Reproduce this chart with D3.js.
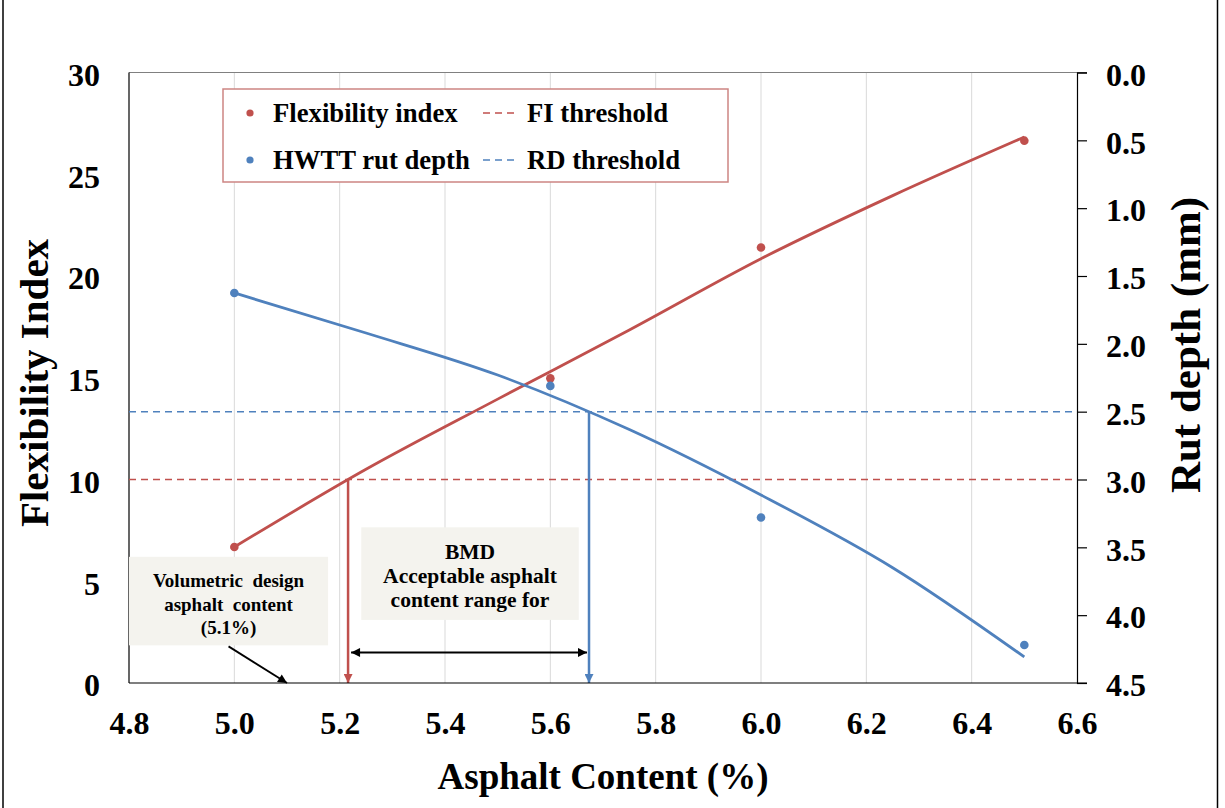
<!DOCTYPE html>
<html>
<head>
<meta charset="utf-8">
<title>Flexibility Index and Rut depth vs Asphalt Content</title>
<script src="https://d3js.org/d3.v7.min.js"></script>
<style>
  body { margin: 0; background: #fff; }
  svg text { font-family: "Liberation Serif", "Times New Roman", serif; font-weight: bold; fill: #000; }
</style>
</head>
<body>
<div id="chart"></div>
<script>
// measured points
const asphalt = [5.0, 5.6, 6.0, 6.5];
const flexIndex = [6.68, 14.97, 21.4, 26.65];
const rutDepth = [1.625, 2.31, 3.28, 4.22];
// trendlines
const trendX = [5.0, 5.25, 5.5, 5.75, 6.0, 6.25, 6.5];
const fiTrend = [6.68, 10.5, 13.95, 17.35, 20.85, 23.95, 26.83];
const rdTrend = [1.625, 1.92, 2.23, 2.632, 3.114, 3.65, 4.308];
// axes
const xTicks = [4.8, 5.0, 5.2, 5.4, 5.6, 5.8, 6.0, 6.2, 6.4, 6.6];
const fiTicks = [0, 5, 10, 15, 20, 25, 30];
const rdTicks = [0, 0.5, 1.0, 1.5, 2.0, 2.5, 3.0, 3.5, 4.0, 4.5];
const fiThreshold = 10;
const rdThreshold = 2.5;
const volumetricAC = 5.1;

const W = 1225, H = 808;
const red = "#c0504d", blue = "#4f81bd";

const svg = d3.select("#chart").append("svg")
    .attr("width", W).attr("height", H);

const x = d3.scaleLinear().domain([4.8, 6.6]).range([129, 1077]);
const yL = d3.scaleLinear().domain([0, 30]).range([683, 72.5]);
const yR = d3.scaleLinear().domain([0, 4.5]).range([72.5, 683]);

// markers
const defs = svg.append("defs");
function arrow(id, color, w, l) {
    defs.append("marker").attr("id", id)
        .attr("viewBox", "0 0 10 10").attr("refX", 10).attr("refY", 5)
        .attr("markerUnits", "userSpaceOnUse")
        .attr("markerWidth", l).attr("markerHeight", w)
        .attr("orient", "auto-start-reverse")
        .append("path").attr("d", "M0,0 L10,5 L0,10 Z").attr("fill", color);
}
arrow("arRed", red, 9, 11);
arrow("arBlue", blue, 9, 11);
arrow("arBlack", "#000", 9, 12);

// outer frame lines
svg.append("line").attr("x1", 3).attr("x2", 3).attr("y1", 0).attr("y2", H)
    .attr("stroke", "#000").attr("stroke-width", 1.5);
svg.append("line").attr("x1", 1217.5).attr("x2", 1217.5).attr("y1", 0).attr("y2", H)
    .attr("stroke", "#000").attr("stroke-width", 1.5);

// vertical gridlines
svg.append("g").selectAll("line")
    .data(xTicks.slice(1, -1)).join("line")
    .attr("x1", d => x(d)).attr("x2", d => x(d))
    .attr("y1", yL(30)).attr("y2", yL(0))
    .attr("stroke", "#d9d9d9").attr("stroke-width", 1);

// plot border
svg.append("line").attr("x1", x(4.8)).attr("x2", x(6.6) + 10)
    .attr("y1", yL(30)).attr("y2", yL(30)).attr("stroke", "#808080").attr("stroke-width", 1.2);
svg.append("line").attr("x1", x(4.8)).attr("x2", x(4.8))
    .attr("y1", yL(30)).attr("y2", yL(0)).attr("stroke", "#000").attr("stroke-width", 1.2);

// annotation boxes
const noteFill = "#f4f3ee";
svg.append("rect")
    .attr("x", x(4.8)).attr("y", yL(6.2))
    .attr("width", x(5.178) - x(4.8)).attr("height", yL(1.85) - yL(6.2))
    .attr("fill", noteFill);
svg.append("rect")
    .attr("x", x(5.241)).attr("y", yL(7.65))
    .attr("width", x(5.654) - x(5.241)).attr("height", yL(3.1) - yL(7.65))
    .attr("fill", noteFill);

const note1 = ["Volumetric  design", "asphalt  content", "(5.1%)"];
svg.append("g").selectAll("text").data(note1).join("text")
    .attr("x", (x(4.8) + x(5.178)) / 2)
    .attr("y", (d, i) => 587 + i * 23.5)
    .attr("text-anchor", "middle").attr("font-size", 19)
    .style("white-space", "pre")
    .text(d => d);

const note2 = ["BMD", "Acceptable asphalt", "content range for"];
svg.append("g").selectAll("text").data(note2).join("text")
    .attr("x", (x(5.241) + x(5.654)) / 2)
    .attr("y", (d, i) => 559 + i * 24)
    .attr("text-anchor", "middle").attr("font-size", 21.5)
    .text(d => d);

// threshold lines
svg.append("line").attr("x1", x(4.8)).attr("x2", x(6.6))
    .attr("y1", yL(fiThreshold)).attr("y2", yL(fiThreshold))
    .attr("stroke", red).attr("stroke-width", 1.5).attr("stroke-dasharray", "7,5");
svg.append("line").attr("x1", x(4.8)).attr("x2", x(6.6))
    .attr("y1", yR(rdThreshold)).attr("y2", yR(rdThreshold))
    .attr("stroke", blue).attr("stroke-width", 1.5).attr("stroke-dasharray", "7,5");

// trendlines
const fiPath = svg.append("path").datum(trendX)
    .attr("d", d3.line().curve(d3.curveMonotoneX).x(d => x(d)).y((d, i) => yL(fiTrend[i])))
    .attr("fill", "none").attr("stroke", red).attr("stroke-width", 2.8);
const rdPath = svg.append("path").datum(trendX)
    .attr("d", d3.line().curve(d3.curveMonotoneX).x(d => x(d)).y((d, i) => yR(rdTrend[i])))
    .attr("fill", "none").attr("stroke", blue).attr("stroke-width", 2.8);

// where a trendline crosses a horizontal pixel level
function crossing(pathSel, yPix) {
    const p = pathSel.node();
    let lo = 0, hi = p.getTotalLength();
    const s0 = Math.sign(p.getPointAtLength(lo).y - yPix);
    for (let i = 0; i < 40; i++) {
        const m = (lo + hi) / 2;
        if (Math.sign(p.getPointAtLength(m).y - yPix) === s0) lo = m; else hi = m;
    }
    return p.getPointAtLength((lo + hi) / 2).x;
}
const pxFI = crossing(fiPath, yL(fiThreshold));
const pxRD = crossing(rdPath, yR(rdThreshold));

// points
svg.append("g").selectAll("circle").data(asphalt).join("circle")
    .attr("cx", d => x(d)).attr("cy", (d, i) => yL(flexIndex[i]))
    .attr("r", 4.3).attr("fill", red);
svg.append("g").selectAll("circle").data(asphalt).join("circle")
    .attr("cx", d => x(d)).attr("cy", (d, i) => yR(rutDepth[i]))
    .attr("r", 4.3).attr("fill", blue);

// drop lines at the threshold crossings
svg.append("line").attr("x1", pxFI).attr("x2", pxFI)
    .attr("y1", yL(fiThreshold)).attr("y2", yL(0))
    .attr("stroke", red).attr("stroke-width", 2.5).attr("marker-end", "url(#arRed)");
svg.append("line").attr("x1", pxRD).attr("x2", pxRD)
    .attr("y1", yR(rdThreshold)).attr("y2", yL(0))
    .attr("stroke", blue).attr("stroke-width", 2.5).attr("marker-end", "url(#arBlue)");

// range arrow
svg.append("line").attr("x1", pxFI + 3).attr("x2", pxRD - 2)
    .attr("y1", yL(1.5)).attr("y2", yL(1.5))
    .attr("stroke", "#000").attr("stroke-width", 2)
    .attr("marker-start", "url(#arBlack)").attr("marker-end", "url(#arBlack)");

// volumetric arrow
svg.append("line")
    .attr("x1", (x(4.8) + x(5.178)) / 2).attr("y1", yL(1.8))
    .attr("x2", x(volumetricAC)).attr("y2", yL(0))
    .attr("stroke", "#000").attr("stroke-width", 1.8)
    .attr("marker-end", "url(#arBlack)");

// axes
const fmt1 = d3.format(".1f");
const gx = svg.append("g").attr("transform", `translate(0,${yL(0)})`)
    .call(d3.axisBottom(x).tickValues(xTicks).tickFormat(fmt1).tickSize(0).tickPadding(28));
gx.select(".domain").remove();
svg.append("line").attr("x1", x(4.8)).attr("x2", x(6.6) + 10)
    .attr("y1", yL(0)).attr("y2", yL(0)).attr("stroke", "#000").attr("stroke-width", 1.2);

const gl = svg.append("g").attr("transform", `translate(${x(4.8)},0)`)
    .call(d3.axisLeft(yL).tickValues(fiTicks).tickFormat(d3.format("d")).tickSize(0).tickPadding(29));
gl.select(".domain").remove();

const gr = svg.append("g").attr("transform", `translate(${x(6.6)},0)`)
    .call(d3.axisRight(yR).tickValues(rdTicks).tickFormat(fmt1).tickSize(10).tickPadding(19));
gr.select(".domain").attr("stroke", "#000").attr("stroke-width", 1.2);
gr.selectAll(".tick line").attr("stroke", "#000").attr("stroke-width", 1.2);

svg.selectAll(".tick text")
    .attr("font-size", 32)
    .style("font-family", "'Liberation Serif', 'Times New Roman', serif")
    .style("font-weight", "bold").attr("fill", "#000");
gl.selectAll(".tick text").attr("dy", "0.4em");
gr.selectAll(".tick text").attr("dy", "0.4em");

// axis titles
svg.append("text").attr("transform", "translate(48,383) rotate(-90)")
    .attr("text-anchor", "middle").attr("font-size", 41).text("Flexibility Index");
svg.append("text").attr("transform", "translate(1200,345) rotate(-90)")
    .attr("text-anchor", "middle").attr("font-size", 43).text("Rut depth (mm)");
svg.append("text").attr("x", 603).attr("y", 789)
    .attr("text-anchor", "middle").attr("font-size", 37).text("Asphalt Content (%)");

// legend
const legend = svg.append("g");
legend.append("rect").attr("x", 223).attr("y", 89).attr("width", 505).attr("height", 93)
    .attr("fill", "#fff").attr("stroke", "#cd8583").attr("stroke-width", 1.5);
const legendItems = [
    { label: "Flexibility index", color: red, type: "dot", lx: 250, ly: 113 },
    { label: "HWTT rut depth", color: blue, type: "dot", lx: 250, ly: 160 },
    { label: "FI threshold", color: red, type: "dash", lx: 483, ly: 113 },
    { label: "RD threshold", color: blue, type: "dash", lx: 483, ly: 160 }
];
legendItems.forEach(it => {
    if (it.type === "dot") {
        legend.append("circle").attr("cx", it.lx).attr("cy", it.ly).attr("r", 3.6).attr("fill", it.color);
        legend.append("text").attr("x", it.lx + 23).attr("y", it.ly + 9)
            .attr("font-size", 26.7).text(it.label);
    } else {
        legend.append("line").attr("x1", it.lx).attr("x2", it.lx + 34)
            .attr("y1", it.ly).attr("y2", it.ly)
            .attr("stroke", it.color).attr("stroke-width", 1.5).attr("stroke-dasharray", "7,5");
        legend.append("text").attr("x", it.lx + 44).attr("y", it.ly + 9)
            .attr("font-size", 26.7).text(it.label);
    }
});
</script>
</body>
</html>
